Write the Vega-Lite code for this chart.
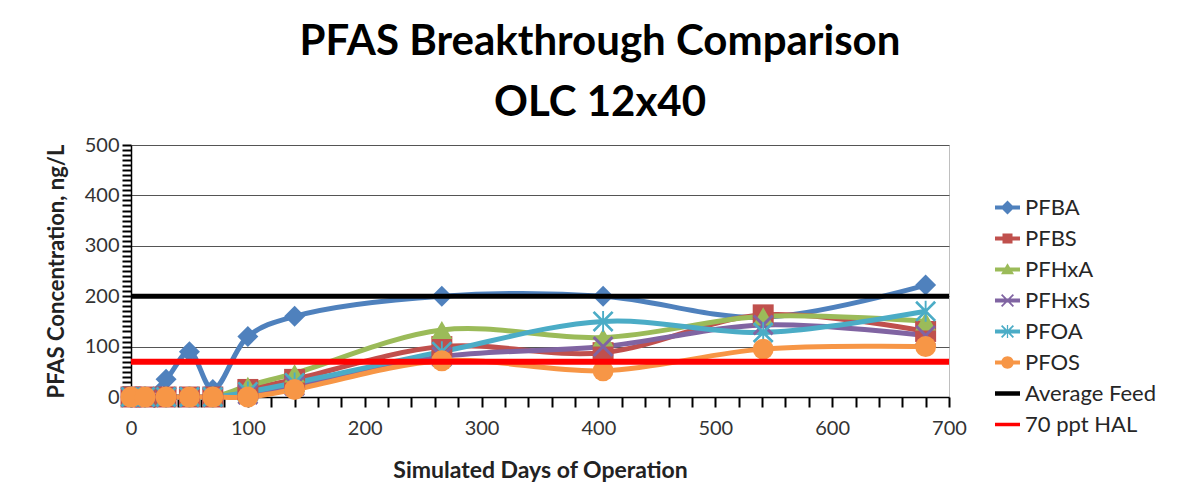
{
  "$schema": "https://vega.github.io/schema/vega-lite/v6.json",
  "width": 818,
  "height": 252,
  "autosize": {"type": "none"},
  "padding": {"left": 131, "top": 145, "right": 233, "bottom": 107},
  "background": "white",
  "config": {
    "view": {"stroke": "#bfbfbf", "strokeWidth": 1},
    "font": "Lato"
  },
  "title": {
    "text": ["PFAS Breakthrough Comparison", "OLC 12x40"],
    "font": "Lato",
    "fontSize": 42,
    "fontWeight": "bold",
    "lineHeight": 61,
    "anchor": "middle",
    "frame": "group",
    "dx": 60,
    "offset": 10,
    "color": "black"
  },
  "datasets": {
    "pts": [
      {"s": "PFBA", "d": 0, "c": 0}, {"s": "PFBA", "d": 12, "c": 0}, {"s": "PFBA", "d": 30, "c": 35}, {"s": "PFBA", "d": 50, "c": 90}, {"s": "PFBA", "d": 70, "c": 15}, {"s": "PFBA", "d": 100, "c": 120}, {"s": "PFBA", "d": 140, "c": 160}, {"s": "PFBA", "d": 266, "c": 200}, {"s": "PFBA", "d": 404, "c": 200}, {"s": "PFBA", "d": 541, "c": 158}, {"s": "PFBA", "d": 680, "c": 222},
      {"s": "PFBS", "d": 0, "c": 0}, {"s": "PFBS", "d": 12, "c": 0}, {"s": "PFBS", "d": 30, "c": 0}, {"s": "PFBS", "d": 50, "c": 0}, {"s": "PFBS", "d": 70, "c": 0}, {"s": "PFBS", "d": 100, "c": 15}, {"s": "PFBS", "d": 140, "c": 35}, {"s": "PFBS", "d": 266, "c": 100}, {"s": "PFBS", "d": 404, "c": 88}, {"s": "PFBS", "d": 541, "c": 163}, {"s": "PFBS", "d": 680, "c": 130},
      {"s": "PFHxA", "d": 0, "c": 0}, {"s": "PFHxA", "d": 12, "c": 0}, {"s": "PFHxA", "d": 30, "c": 0}, {"s": "PFHxA", "d": 50, "c": 0}, {"s": "PFHxA", "d": 70, "c": 0}, {"s": "PFHxA", "d": 100, "c": 22}, {"s": "PFHxA", "d": 140, "c": 47}, {"s": "PFHxA", "d": 266, "c": 133}, {"s": "PFHxA", "d": 404, "c": 118}, {"s": "PFHxA", "d": 541, "c": 160}, {"s": "PFHxA", "d": 680, "c": 150},
      {"s": "PFHxS", "d": 0, "c": 0}, {"s": "PFHxS", "d": 12, "c": 0}, {"s": "PFHxS", "d": 30, "c": 0}, {"s": "PFHxS", "d": 50, "c": 0}, {"s": "PFHxS", "d": 70, "c": 0}, {"s": "PFHxS", "d": 100, "c": 5}, {"s": "PFHxS", "d": 140, "c": 22}, {"s": "PFHxS", "d": 266, "c": 80}, {"s": "PFHxS", "d": 404, "c": 100}, {"s": "PFHxS", "d": 541, "c": 143}, {"s": "PFHxS", "d": 680, "c": 122},
      {"s": "PFOA", "d": 0, "c": 0}, {"s": "PFOA", "d": 12, "c": 0}, {"s": "PFOA", "d": 30, "c": 0}, {"s": "PFOA", "d": 50, "c": 0}, {"s": "PFOA", "d": 70, "c": 0}, {"s": "PFOA", "d": 100, "c": 10}, {"s": "PFOA", "d": 140, "c": 28}, {"s": "PFOA", "d": 266, "c": 90}, {"s": "PFOA", "d": 404, "c": 150}, {"s": "PFOA", "d": 541, "c": 128}, {"s": "PFOA", "d": 680, "c": 170},
      {"s": "PFOS", "d": 0, "c": 0}, {"s": "PFOS", "d": 12, "c": 0}, {"s": "PFOS", "d": 30, "c": 0}, {"s": "PFOS", "d": 50, "c": 0}, {"s": "PFOS", "d": 70, "c": 0}, {"s": "PFOS", "d": 100, "c": 0}, {"s": "PFOS", "d": 140, "c": 15}, {"s": "PFOS", "d": 266, "c": 72}, {"s": "PFOS", "d": 404, "c": 52}, {"s": "PFOS", "d": 541, "c": 95}, {"s": "PFOS", "d": 680, "c": 100},
      {"s": "Average Feed", "d": 0, "c": 200}, {"s": "Average Feed", "d": 700, "c": 200},
      {"s": "70 ppt HAL", "d": 0, "c": 70}, {"s": "70 ppt HAL", "d": 700, "c": 70}
    ]
  },
  "data": {"name": "pts"},
  "encoding": {
    "x": {
      "field": "d", "type": "quantitative",
      "scale": {"domain": [0, 700], "nice": false, "zero": false},
      "axis": {
        "values": [0, 20, 40, 60, 80, 100, 120, 140, 160, 180, 200, 220, 240, 260, 280, 300, 320, 340, 360, 380, 400, 420, 440, 460, 480, 500, 520, 540, 560, 580, 600, 620, 640, 660, 680, 700],
        "labelExpr": "datum.value % 100 === 0 ? datum.label : ''",
        "labelOverlap": false,
        "labelFlush": false,
        "ticks": true,
        "domain": true,
        "zindex": 0,
        "tickSize": 10,
        "tickColor": "#000000",
        "tickWidth": 2,
        "domainColor": "#000000",
        "domainWidth": 1.5,
        "grid": false,
        "labelFont": "Lato",
        "labelFontSize": 20,
        "labelColor": "#333333",
        "labelPadding": 11,
        "title": "Simulated Days of Operation",
        "titleFont": "Lato",
        "titleFontSize": 23,
        "titleFontWeight": "bold",
        "titleColor": "#222222",
        "titlePadding": 21,
        "encode": {"ticks": {"update": {"y": {"signal": "datum.value % 100 === 0 ? 0 : -5"}}}}
      }
    },
    "y": {
      "field": "c", "type": "quantitative",
      "scale": {"domain": [0, 500], "nice": false},
      "axis": {
        "values": [0, 10, 20, 30, 40, 50, 60, 70, 80, 90, 100, 110, 120, 130, 140, 150, 160, 170, 180, 190, 200, 210, 220, 230, 240, 250, 260, 270, 280, 290, 300, 310, 320, 330, 340, 350, 360, 370, 380, 390, 400, 410, 420, 430, 440, 450, 460, 470, 480, 490, 500],
        "labelExpr": "datum.value % 100 === 0 ? datum.label : ''",
        "labelOverlap": false,
        "labelFlush": false,
        "ticks": true,
        "domain": true,
        "zindex": 0,
        "tickSize": 9,
        "tickColor": "#000000",
        "tickWidth": 2,
        "domainColor": "#000000",
        "domainWidth": 1.5,
        "grid": true,
        "gridColor": "#555555",
        "gridWidth": 1.2,
        "gridOpacity": {"condition": {"test": "datum.value % 100 === 0 && datum.value > 0", "value": 1}, "value": 0},
        "labelFont": "Lato",
        "labelFontSize": 20,
        "labelColor": "#333333",
        "labelPadding": 3,
        "title": "PFAS Concentration, ng/L",
        "titleFont": "Lato",
        "titleFontSize": 22,
        "titleFontWeight": "bold",
        "titleColor": "#222222",
        "titlePadding": 16,
        "encode": {"ticks": {"update": {"x": {"value": 4}}}}
      }
    }
  },
  "resolve": {"scale": {"color": "independent", "shape": "independent"}, "legend": {"color": "independent", "shape": "independent"}},
  "layer": [
    {
      "transform": [{"filter": "datum.s !== 'Average Feed' && datum.s !== '70 ppt HAL'"}],
      "mark": {"type": "line", "strokeWidth": 5, "interpolate": "catmull-rom"},
      "encoding": {
        "color": {
          "field": "s", "type": "nominal", "legend": null,
          "scale": {"domain": ["PFBA", "PFBS", "PFHxA", "PFHxS", "PFOA", "PFOS"], "range": ["#4F81BD", "#C0504D", "#9BBB59", "#8064A2", "#4BACC6", "#F79646"]}
        }
      }
    },
    {
      "transform": [{"filter": "datum.s !== 'Average Feed' && datum.s !== '70 ppt HAL'"}],
      "mark": {"type": "point", "filled": true, "opacity": 1, "size": 440, "strokeWidth": 0},
      "encoding": {
        "color": {
          "field": "s", "type": "nominal", "legend": null,
          "scale": {"domain": ["PFBA", "PFBS", "PFHxA", "PFHxS", "PFOA", "PFOS"], "range": ["#4F81BD", "#C0504D", "#9BBB59", "#8064A2", "#4BACC6", "#F79646"]}
        },
        "shape": {
          "field": "s", "type": "nominal", "legend": null,
          "scale": {
            "domain": ["PFBA", "PFBS", "PFHxA", "PFHxS", "PFOA", "PFOS"],
            "range": [
              "diamond",
              "square",
              "triangle-up",
              "M0,-0.2L0.8,-1L1,-0.8L0.2,0L1,0.8L0.8,1L0,0.2L-0.8,1L-1,0.8L-0.2,0L-1,-0.8L-0.8,-1Z",
              "M0,-0.18L0.82,-1L1,-0.82L0.18,0L1,0.82L0.82,1L0,0.18L-0.82,1L-1,0.82L-0.18,0L-1,-0.82L-0.82,-1Z M-0.09,-1H0.09V1H-0.09Z",
              "circle"
            ]
          }
        }
      }
    },
    {
      "transform": [{"filter": "datum.s === 'Average Feed'"}],
      "mark": {"type": "line", "color": "black", "strokeWidth": 5},
      "encoding": {}
    },
    {
      "transform": [{"filter": "datum.s === '70 ppt HAL'"}],
      "mark": {"type": "line", "color": "#FF0000", "strokeWidth": 6},
      "encoding": {}
    },
    {
      "transform": [{"filter": "datum.c < -1"}],
      "mark": {"type": "point", "filled": true, "opacity": 1, "size": 625, "strokeWidth": 0},
      "encoding": {
        "color": {
          "field": "s", "type": "nominal",
          "scale": {"domain": ["PFBA", "PFBS", "PFHxA", "PFHxS", "PFOA", "PFOS", "Average Feed", "70 ppt HAL"], "range": ["#4F81BD", "#C0504D", "#9BBB59", "#8064A2", "#4BACC6", "#F79646", "#000000", "#FF0000"]},
          "legend": {
            "title": null, "orient": "none", "legendX": 864, "legendY": 50, "padding": 0,
            "symbolSize": 625, "symbolStrokeWidth": 0, "symbolOpacity": 1, "symbolOffset": 0,
            "labelFont": "Lato", "labelFontSize": 22, "labelColor": "#262626", "labelOffset": 5,
            "rowPadding": 7, "labelLimit": 300
          }
        },
        "shape": {
          "field": "s", "type": "nominal",
          "scale": {
            "domain": ["PFBA", "PFBS", "PFHxA", "PFHxS", "PFOA", "PFOS", "Average Feed", "70 ppt HAL"],
            "range": [
              "M-1,-0.16H1V0.16H-1Z M0,-0.56L0.56,0L0,0.56L-0.56,0Z",
              "M-1,-0.16H1V0.16H-1Z M-0.4,-0.4H0.4V0.4H-0.4Z",
              "M-1,-0.16H1V0.16H-1Z M0,-0.5L0.52,0.38H-0.52Z",
              "M-1,-0.16H1V0.16H-1Z M0,-0.1L0.42,-0.52L0.52,-0.42L0.1,0L0.52,0.42L0.42,0.52L0,0.1L-0.42,0.52L-0.52,0.42L-0.1,0L-0.52,-0.42L-0.42,-0.52Z",
              "M-1,-0.16H1V0.16H-1Z M0,-0.1L0.42,-0.52L0.52,-0.42L0.1,0L0.52,0.42L0.42,0.52L0,0.1L-0.42,0.52L-0.52,0.42L-0.1,0L-0.52,-0.42L-0.42,-0.52Z M-0.05,-0.52H0.05V0.52H-0.05Z",
              "M-1,-0.16H1V0.16H-1Z M-0.5,0A0.5,0.5 0 1,1 0.5,0A0.5,0.5 0 1,1 -0.5,0Z",
              "M-1,-0.18H1V0.18H-1Z",
              "M-1,-0.14H1V0.14H-1Z"
            ]
          },
          "legend": {
            "title": null, "orient": "none", "legendX": 864, "legendY": 50, "padding": 0,
            "symbolSize": 625, "symbolStrokeWidth": 0, "symbolOpacity": 1, "symbolOffset": 0,
            "labelFont": "Lato", "labelFontSize": 22, "labelColor": "#262626", "labelOffset": 5,
            "rowPadding": 7, "labelLimit": 300
          }
        }
      }
    }
  ]
}
